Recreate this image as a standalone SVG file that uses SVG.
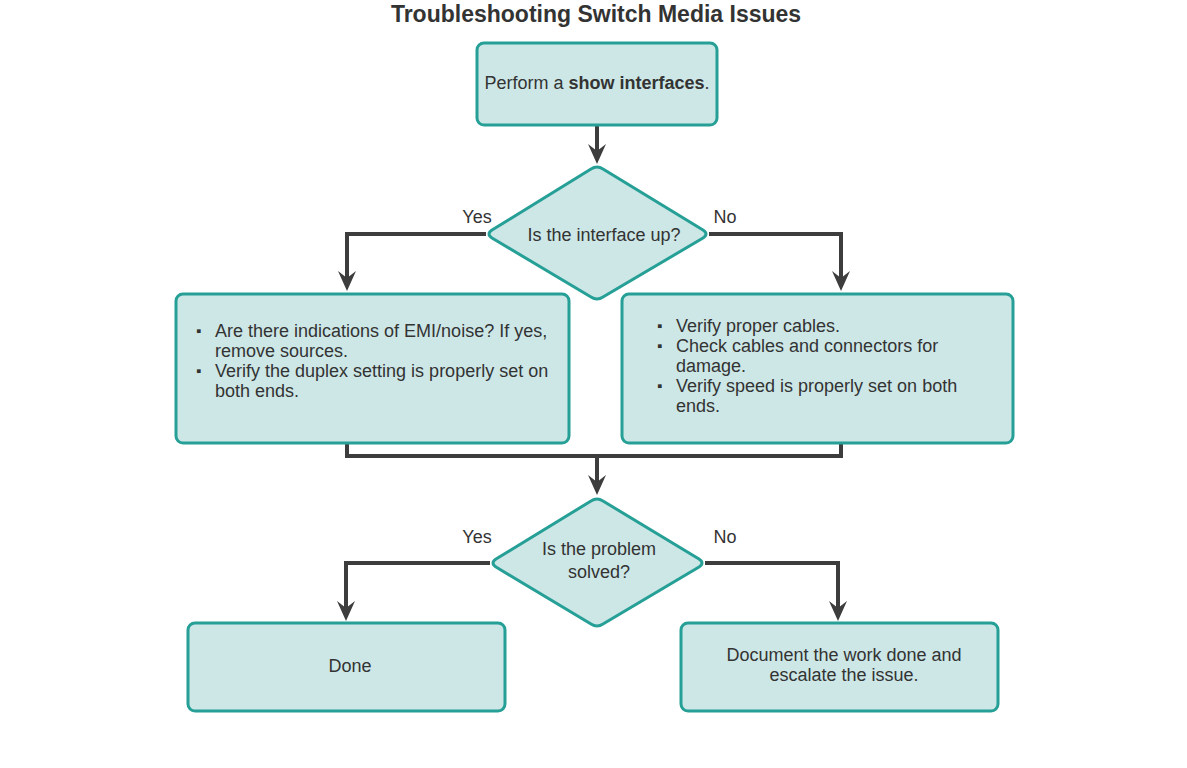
<svg xmlns="http://www.w3.org/2000/svg" width="1187" height="768" viewBox="0 0 1187 768">
<defs>
<style>
.box{fill:#cde7e7;stroke:#26a096;stroke-width:3}
.t{font-family:"Liberation Sans",Arial,sans-serif;font-size:18px;fill:#333}
.c{text-anchor:middle}
.b{font-size:15px}
.ln{fill:none;stroke:#3d3d3d;stroke-width:4;stroke-linejoin:miter}
</style>
<marker id="ah" viewBox="0 0 20 18" refX="13" refY="9" markerWidth="20" markerHeight="18" markerUnits="userSpaceOnUse" orient="auto">
<path d="M0,0 L20,9 L0,18 L7,9 z" fill="#3d3d3d"/>
</marker>
</defs>
<rect width="1187" height="768" fill="#fff"/>
<text x="596" y="22" class="t c" style="font-size:23px;font-weight:bold">Troubleshooting Switch Media Issues</text>

<g id="connectors">
<path class="ln" d="M597,125 V157" marker-end="url(#ah)"/>
<path class="ln" d="M486,234 H347 V284" marker-end="url(#ah)"/>
<path class="ln" d="M709,234 H841 V284" marker-end="url(#ah)"/>
<path class="ln" d="M347,443 V456 H841 V443"/>
<path class="ln" d="M597,456 V488" marker-end="url(#ah)"/>
<path class="ln" d="M490,563 H346 V614" marker-end="url(#ah)"/>
<path class="ln" d="M705,563 H838 V614" marker-end="url(#ah)"/>
<text x="477" y="223" class="t c">Yes</text>
<text x="725" y="223" class="t c">No</text>
<text x="477" y="543" class="t c">Yes</text>
<text x="725" y="543" class="t c">No</text>
</g>

<g id="start">
<rect class="box" x="477" y="43" width="240" height="82" rx="7"/>
<text x="597" y="89" class="t c">Perform a <tspan font-weight="bold">show interfaces</tspan>.</text>
</g>

<g id="decision1">
<path class="box" d="M591,169 Q597,165 603,169 L703,230 Q709,234 703,238 L603,297 Q597,301 591,297 L492,238 Q486,234 492,230 Z"/>
<text x="604" y="241" class="t c">Is the interface up?</text>
</g>

<g id="yesbox">
<rect class="box" x="176" y="294" width="393" height="149" rx="7"/>
<text class="t"><tspan x="196" y="336" class="b">▪</tspan><tspan x="215" y="337">Are there indications of EMI/noise? If yes,</tspan><tspan x="215" y="357">remove sources.</tspan><tspan x="196" y="376" class="b">▪</tspan><tspan x="215" y="377">Verify the duplex setting is properly set on</tspan><tspan x="215" y="397">both ends.</tspan></text>
</g>

<g id="nobox">
<rect class="box" x="622" y="294" width="391" height="149" rx="7"/>
<text class="t"><tspan x="657" y="331" class="b">▪</tspan><tspan x="676" y="332">Verify proper cables.</tspan><tspan x="657" y="351" class="b">▪</tspan><tspan x="676" y="352">Check cables and connectors for</tspan><tspan x="676" y="372">damage.</tspan><tspan x="657" y="391" class="b">▪</tspan><tspan x="676" y="392">Verify speed is properly set on both</tspan><tspan x="676" y="412">ends.</tspan></text>
</g>

<g id="decision2">
<path class="box" d="M591,501 Q597,497 603,501 L699,559 Q705,563 699,567 L603,624 Q597,628 591,624 L496,567 Q490,563 496,559 Z"/>
<text x="599" y="555" class="t c">Is the problem</text>
<text x="599" y="578" class="t c">solved?</text>
</g>

<g id="done">
<rect class="box" x="188" y="623" width="317" height="88" rx="7"/>
<text x="350" y="672" class="t c">Done</text>
</g>

<g id="escalate">
<rect class="box" x="681" y="623" width="317" height="88" rx="7"/>
<text x="844" y="661" class="t c">Document the work done and</text>
<text x="844" y="681" class="t c">escalate the issue.</text>
</g>
</svg>
